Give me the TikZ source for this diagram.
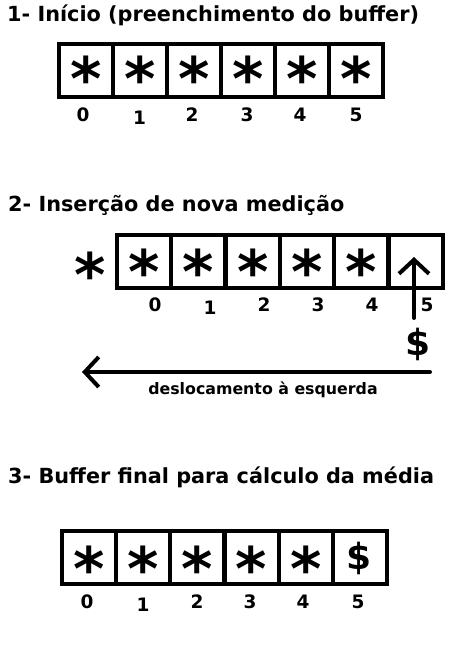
\documentclass[tikz,border=0pt]{standalone}
\usepackage{fontspec}
\setmainfont{DejaVu Sans}
\usetikzlibrary{arrows.meta}
\begin{document}
\begin{tikzpicture}[x=1pt,y=-1pt,
  cell/.style={draw=black,line width=4pt,minimum width=54pt,minimum height=53pt,inner sep=0pt,outer sep=0pt},
  idx/.style={inner sep=0pt,font=\fontsize{18.5}{18.5}\bfseries\selectfont},
  ttl/.style={inner sep=0pt,anchor=base west,font=\fontsize{20.8}{20.8}\bfseries\selectfont},
  asterisk/.style={inner sep=0pt,font=\fontsize{60}{60}\bfseries\selectfont},
  dollarsign/.style={inner sep=0pt,font=\fontsize{36}{36}\bfseries\selectfont},
  arr/.style={line width=4pt,line cap=round,-{Straight Barb[length=14pt,width=30pt]}},
  shiftlabel/.style={inner sep=0pt,font=\fontsize{15.8}{15.8}\bfseries\selectfont}]
\useasboundingbox (0,0) rectangle (469,651);
% ---- 1
\node[ttl] (t1) at (7,21) {1- Início (preenchimento do buffer)};
\foreach \i/\lx/\ly in {0/83/114.5,1/139.5/117.5,2/192/114.5,3/247/114.5,4/300/114.5,5/356/114.5}{
  \node[cell] (a\i) at ({59+54*(\i+0.5)},70.5) {};
  \node[asterisk] (as\i) at ({59+54*(\i+0.5)},78.5) {*};
  \node[idx] (ai\i) at (\lx,\ly) {\i};
}
% ---- 2
\node[ttl] (t2) at (8,211) {2- Inserção de nova medição};
\node[asterisk] (bout) at (90.5,274) {*};
\foreach \i/\lx/\ly in {0/155/305,1/210/307.5,2/264/305,3/318/305,4/372/305,5/427/305}{
  \node[cell] (b\i) at ({117+54.33*(\i+0.5)},261) {};
  \node[idx] (bi\i) at (\lx,\ly) {\i};
}
\foreach \i in {0,...,4}{
  \node[asterisk] (bs\i) at ({117+54.33*(\i+0.5)},271) {*};
}
\node[dollarsign] (bd) at (418,344) {\$};
\coordinate (uptip) at (414,257);
\coordinate (upstart) at (414,318);
\draw[arr] (upstart) -- (uptip);
\coordinate (lstart) at (430,372);
\coordinate (ltip) at (82,372);
\draw[arr] (lstart) -- (ltip);
\node[shiftlabel] (shift) at (263,390) {deslocamento à esquerda};
% ---- 3
\node[ttl] (t3) at (8,483) {3- Buffer final para cálculo da média};
\foreach \i/\lx/\ly in {0/87/602,1/143/604.5,2/197/602,3/250/602,4/303/602,5/358/602}{
  \node[cell] (c\i) at ({62+54.17*(\i+0.5)},557.5) {};
  \node[idx] (ci\i) at (\lx,\ly) {\i};
}
\foreach \i in {0,...,4}{
  \node[asterisk] (cs\i) at ({62+54.17*(\i+0.5)},568) {*};
}
\node[dollarsign] (cd) at (359,558) {\$};
\end{tikzpicture}
\end{document}
